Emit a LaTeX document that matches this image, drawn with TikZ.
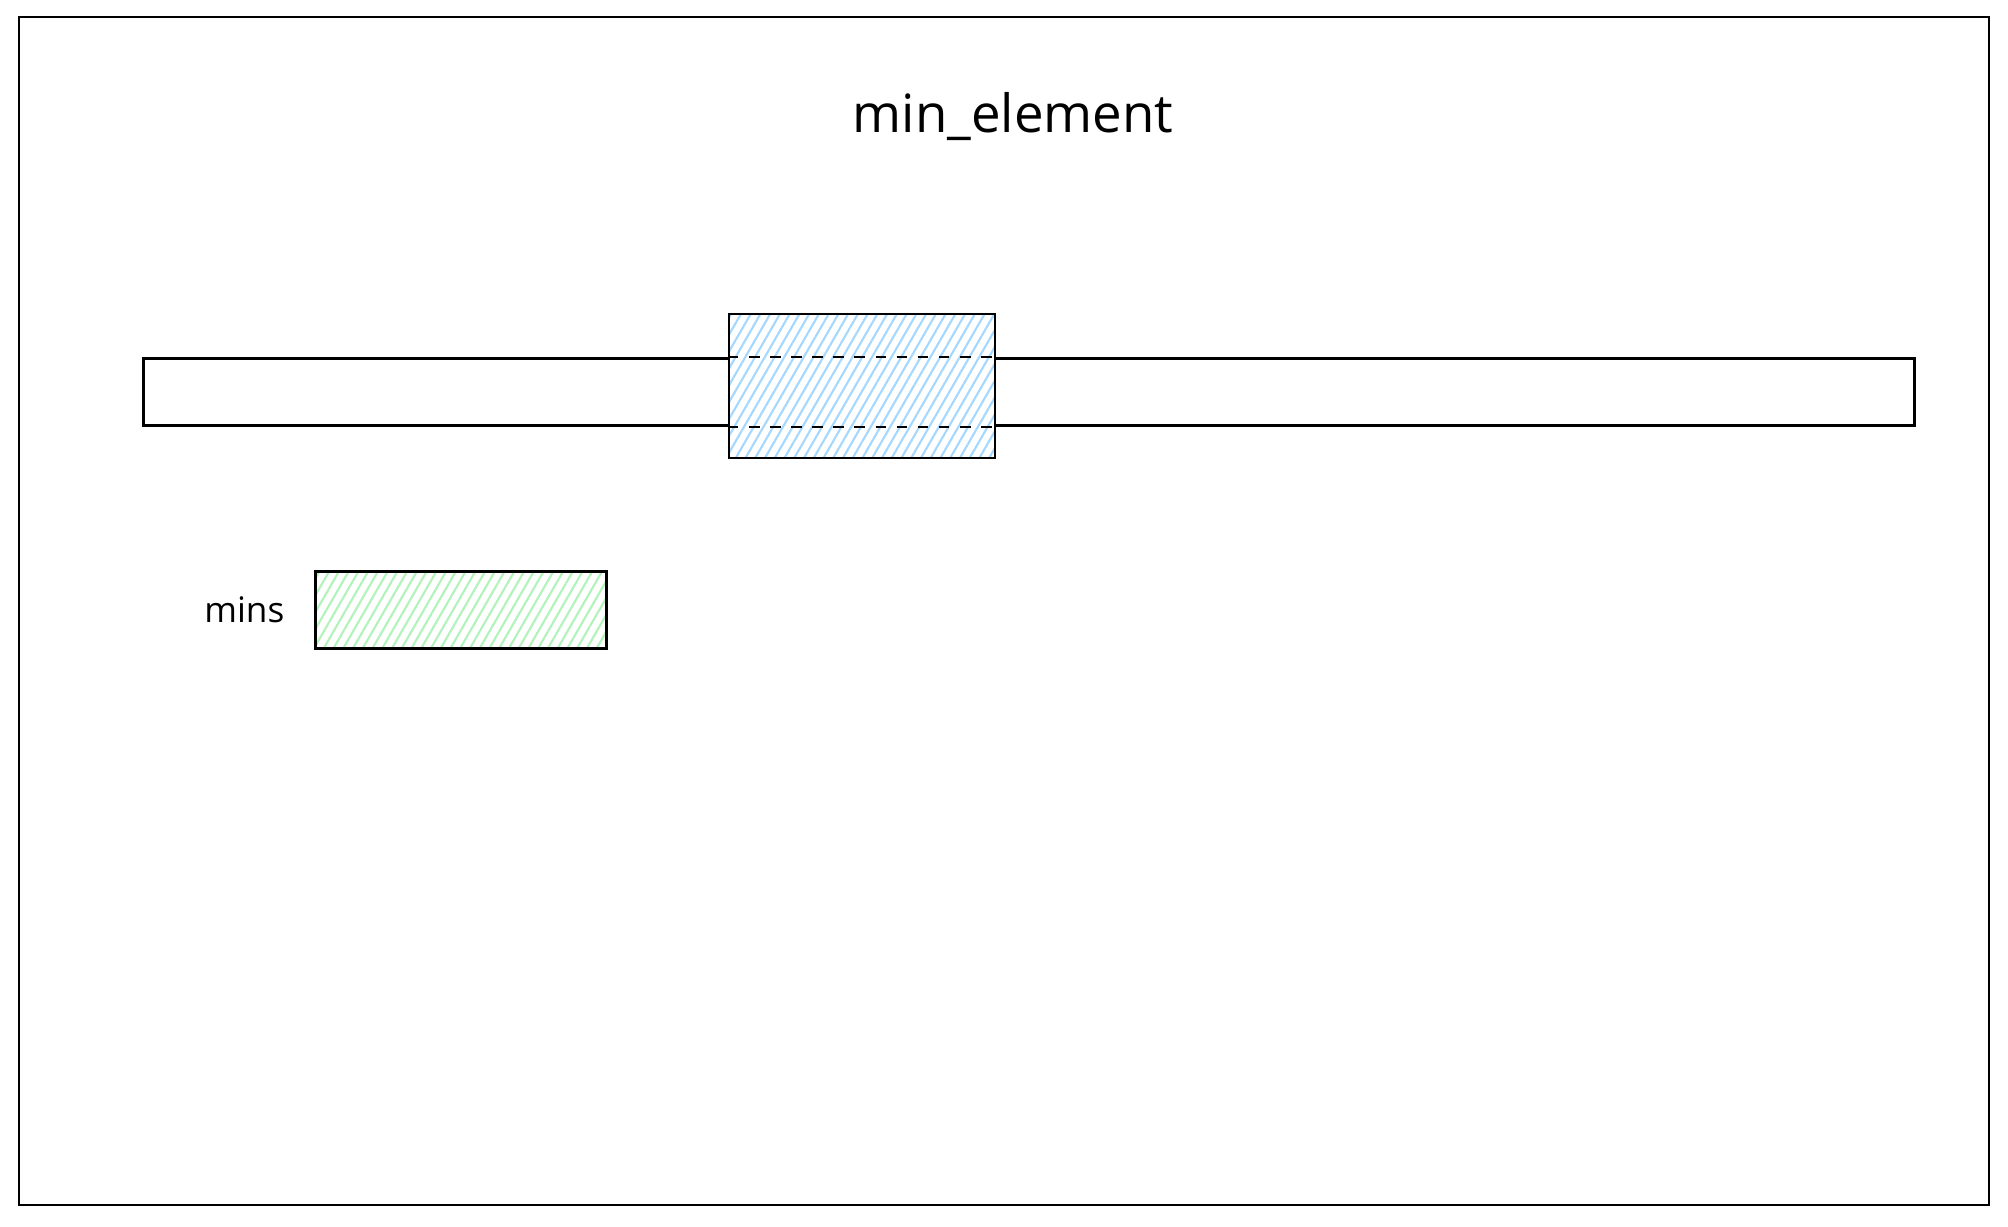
\documentclass[tikz,border=0pt]{standalone}
\usepackage{fontspec}
\setmainfont{Open Sans}
\usetikzlibrary{positioning,patterns.meta}
\definecolor{hatchblue}{HTML}{A5D8FF}
\definecolor{hatchgreen}{HTML}{B2F2BB}
\tikzset{
  cell/.style={draw, line width=0.8pt, inner sep=0pt},
  hatched/.style={preaction={fill=white},
    pattern={Lines[angle=60,distance=2.4pt,line width=0.6pt]}, pattern color=#1},
}
\begin{document}
\begin{tikzpicture}[x=0.01cm, y=-0.01cm]
    \useasboundingbox (0,0) rectangle (2008,1226);
    \draw[line width=0.8pt] (19,17) rectangle (1989,1205);
    \node (title) at (1013,117) {\fontsize{15}{18}\selectfont min\_element};
    \node[cell, minimum width=17.7cm, minimum height=0.67cm] (bar) at (1029,392) {};
    \node[cell, hatched=hatchblue, minimum width=2.66cm, minimum height=1.44cm] (cur) at (862,386) {};
    \draw[dashed, line width=0.6pt] (bar.north -| cur.west) -- (bar.north -| cur.east);
    \draw[dashed, line width=0.6pt] (bar.south -| cur.west) -- (bar.south -| cur.east);
    \node[cell, hatched=hatchgreen, minimum width=2.91cm, minimum height=0.77cm] (minbox) at (461,610) {};
    \node[left=0.29cm of minbox, inner sep=0pt] (minlabel) {\fontsize{10}{12}\selectfont mins};
\end{tikzpicture}
\end{document}
